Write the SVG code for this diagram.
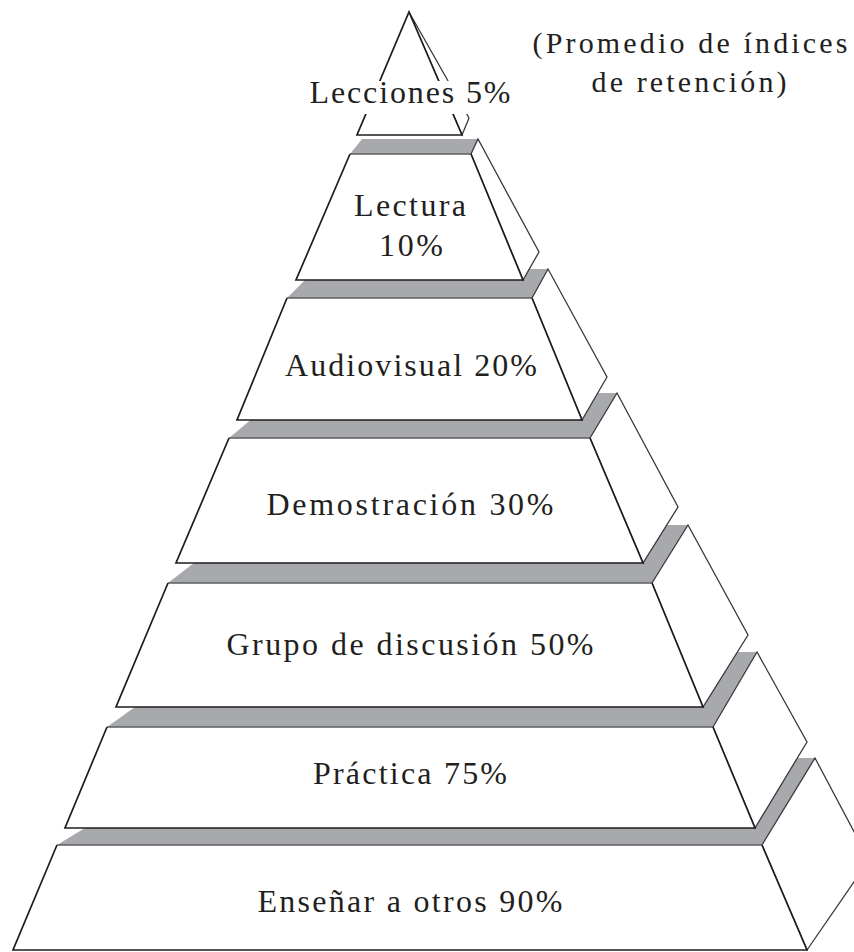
<svg xmlns="http://www.w3.org/2000/svg" width="854" height="952" viewBox="0 0 854 952">
<style>
.gray{fill:#a7a9ac;stroke:none}
.side{fill:#ffffff;stroke:#3a3a3c;stroke-width:1.3;stroke-linejoin:miter}
.face{fill:#ffffff;stroke:none}
.edge{fill:none;stroke:#1f1c1d;stroke-width:1.7;stroke-linejoin:miter}
.topedge{fill:none;stroke:#5d5e60;stroke-width:1.6}
.lbl{font-size:32px;fill:#231f20;text-anchor:middle}
.hd{font-size:30px;fill:#231f20;text-anchor:middle}
</style>
<rect width="854" height="952" fill="#ffffff"/>
<g font-family="'Liberation Serif', 'DejaVu Serif', serif">

<g id="tier7">
<polygon class="gray" points="57,845 762,845 815,758 200,758"/>
<polygon class="side" points="762,845 815,758 869,860 807,950"/>
<polygon class="face" points="57,845 762,845 807,950 13,950"/>
<line class="topedge" x1="57" y1="845" x2="762" y2="845"/>
<polyline class="edge" points="57,845 13,950 807,950 762,845"/>
<text class="lbl" x="410" y="912" textLength="305" lengthAdjust="spacing">Enseñar a otros 90%</text>
</g>

<g id="tier6">
<polygon class="gray" points="107,727 713,727 757,652 212,652"/>
<polygon class="side" points="713,727 757,652 807,742 755,828"/>
<polygon class="face" points="107,727 713,727 755,828 65,828"/>
<line class="topedge" x1="107" y1="727" x2="713" y2="727"/>
<polyline class="edge" points="107,727 65,828 755,828 713,727"/>
<text class="lbl" x="410" y="784" textLength="194" lengthAdjust="spacing">Práctica 75%</text>
</g>

<g id="tier5">
<polygon class="gray" points="168,583 652,583 688,525 243,525"/>
<polygon class="side" points="652,583 688,525 748,635 703,707"/>
<polygon class="face" points="168,583 652,583 703,707 116,707"/>
<line class="topedge" x1="168" y1="583" x2="652" y2="583"/>
<polyline class="edge" points="168,583 116,707 703,707 652,583"/>
<text class="lbl" x="410" y="655" textLength="367" lengthAdjust="spacing">Grupo de discusión 50%</text>
</g>

<g id="tier4">
<polygon class="gray" points="229,438 590,438 617,393 283,393"/>
<polygon class="side" points="590,438 617,393 678,507 643,563"/>
<polygon class="face" points="229,438 590,438 643,563 176,563"/>
<line class="topedge" x1="229" y1="438" x2="590" y2="438"/>
<polyline class="edge" points="229,438 176,563 643,563 590,438"/>
<text class="lbl" x="410" y="515" textLength="287" lengthAdjust="spacing">Demostración 30%</text>
</g>

<g id="tier3">
<polygon class="gray" points="287,298 532,298 548,269 316,269"/>
<polygon class="side" points="532,298 548,269 607,377 582,420"/>
<polygon class="face" points="287,298 532,298 582,420 237,420"/>
<line class="topedge" x1="287" y1="298" x2="532" y2="298"/>
<polyline class="edge" points="287,298 237,420 582,420 532,298"/>
<text class="lbl" x="411" y="376" textLength="252" lengthAdjust="spacing">Audiovisual 20%</text>
</g>

<g id="tier2">
<polygon class="gray" points="350,154 471,154 478,139 362,139"/>
<polygon class="side" points="471,154 478,139 539,252 523,280"/>
<polygon class="face" points="350,154 471,154 523,280 296,280"/>
<line class="topedge" x1="350" y1="154" x2="471" y2="154"/>
<polyline class="edge" points="350,154 296,280 523,280 471,154"/>
<text class="lbl" x="410" y="216" textLength="112" lengthAdjust="spacing">Lectura</text>
<text class="lbl" x="411" y="256" textLength="64" lengthAdjust="spacing">10%</text>
</g>

<g id="tier1">
<polygon class="side" points="409,12 469,118 462,135"/>
<polygon class="face" points="409,12 462,135 357,135"/>
<polygon class="edge" points="409,12 462,135 357,135"/>
<rect x="304" y="81" width="212" height="33" fill="#ffffff"/>
<text class="lbl" x="410" y="103" textLength="201" lengthAdjust="spacing">Lecciones 5%</text>
</g>

<g id="caption">
<text class="hd" x="690" y="53" textLength="315" lengthAdjust="spacing">(Promedio de índices</text>
<text class="hd" x="689" y="92" textLength="195" lengthAdjust="spacing">de retención)</text>
</g>
</g>
</svg>
